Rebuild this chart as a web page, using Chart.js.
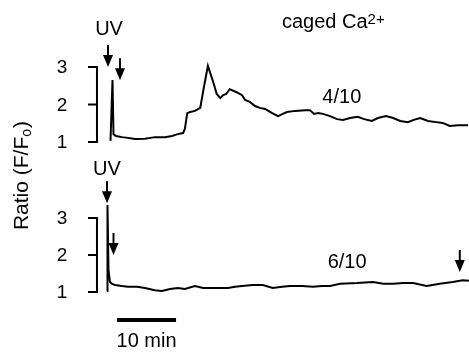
<!DOCTYPE html>
<html>
<head>
<meta charset="utf-8">
<script src="https://cdn.jsdelivr.net/npm/chart.js"></script>
<style>
  html, body { margin: 0; padding: 0; background: #fff; }
  #wrap { width: 469px; height: 352px; position: relative; }
</style>
</head>
<body>
<div id="wrap"><canvas id="ratioChart"></canvas></div>
<script>
// time in minutes after the first UV flash, ratio F/Fo
const topTime = [0.59, 0.93, 1.10, 1.53, 2.54, 3.56, 4.75, 6.44, 8.14, 9.83, 11.0, 12.0, 12.9, 13.2, 13.6, 14.1, 14.9, 15.8, 16.4, 17.1, 18.0, 18.6, 19.2, 19.7, 20.2, 20.8, 21.5, 22.2, 22.9, 23.4, 24.2, 25.1, 25.9, 26.8, 28.0, 29.0, 29.8, 30.5, 31.9, 33.6, 34.4, 35.1, 35.8, 36.6, 37.8, 39.0, 40.0, 41.2, 42.5, 43.6, 44.9, 45.9, 47.3, 48.5, 49.7, 51.0, 52.0, 53.1, 54.4, 55.8, 56.9, 58.1, 59.5, 61.2];
const topRatio = [1.03, 2.65, 1.21, 1.16, 1.13, 1.11, 1.08, 1.09, 1.13, 1.13, 1.16, 1.21, 1.24, 1.35, 1.77, 1.80, 1.83, 1.91, 2.44, 3.03, 2.60, 2.28, 2.17, 2.25, 2.28, 2.41, 2.36, 2.31, 2.25, 2.12, 2.07, 1.96, 1.91, 1.88, 1.77, 1.69, 1.75, 1.80, 1.83, 1.85, 1.85, 1.75, 1.77, 1.75, 1.69, 1.61, 1.59, 1.64, 1.67, 1.61, 1.56, 1.64, 1.69, 1.64, 1.56, 1.53, 1.59, 1.64, 1.56, 1.53, 1.51, 1.43, 1.45, 1.45];

const bottomTime = [0.0, 0.08, 0.25, 0.5, 0.85, 1.36, 2.5, 3.56, 5.1, 6.44, 8.1, 9.3, 10.7, 12.0, 13.2, 14.9, 16.3, 17.5, 19.2, 20.5, 21.7, 22.9, 24.7, 26.4, 28.1, 29.7, 31.0, 33.1, 34.9, 36.4, 37.8, 39.5, 42.4, 45.1, 46.8, 48.5, 50.2, 51.9, 54.2, 56.4, 58.6, 60.3, 61.4];
const bottomRatio = [1.03, 3.35, 1.60, 1.27, 1.22, 1.19, 1.16, 1.14, 1.14, 1.11, 1.05, 1.03, 1.08, 1.11, 1.08, 1.16, 1.11, 1.11, 1.11, 1.11, 1.14, 1.16, 1.19, 1.19, 1.11, 1.14, 1.16, 1.16, 1.14, 1.16, 1.16, 1.22, 1.24, 1.27, 1.22, 1.22, 1.24, 1.24, 1.16, 1.22, 1.27, 1.32, 1.30];

const tickValues = [1, 2, 3];
const tickLabels = ["1", "2", "3"];

// arrow tips: [time, ratio]
const topArrows = [[0.17, 3.0], [2.2, 2.65]];
const bottomArrows = [[0.0, 3.4], [1.1, 2.0], [59.8, 1.54]];

const FONT = '"Liberation Sans", Arial, sans-serif';

function drawArrow(ctx, px, tip) {
  ctx.lineWidth = 2;
  ctx.beginPath();
  ctx.moveTo(px, tip - 22);
  ctx.lineTo(px, tip - 10);
  ctx.stroke();
  ctx.beginPath();
  ctx.moveTo(px - 5, tip - 12);
  ctx.lineTo(px + 5, tip - 12);
  ctx.lineTo(px, tip);
  ctx.closePath();
  ctx.fill();
}

const overlay = {
  id: "overlay",
  afterDraw(chart) {
    const ctx = chart.ctx;
    const x = chart.scales.x;
    const yT = chart.scales.yTop;
    const yB = chart.scales.yBot;
    ctx.save();
    ctx.fillStyle = "#000";
    ctx.strokeStyle = "#000";

    // bracket-style y axes
    const bx = x.getPixelForValue(-1.7);
    [yT, yB].forEach(function (y) {
      ctx.lineWidth = 2;
      ctx.beginPath();
      ctx.moveTo(bx - 9, y.getPixelForValue(3));
      ctx.lineTo(bx, y.getPixelForValue(3));
      ctx.lineTo(bx, y.getPixelForValue(1));
      ctx.lineTo(bx - 9, y.getPixelForValue(1));
      ctx.moveTo(bx - 9, y.getPixelForValue(2));
      ctx.lineTo(bx, y.getPixelForValue(2));
      ctx.stroke();
      ctx.font = "19px " + FONT;
      ctx.textAlign = "center";
      ctx.textBaseline = "middle";
      tickValues.forEach(function (v, i) {
        ctx.fillText(tickLabels[i], bx - 35, y.getPixelForValue(v) + 1);
      });
    });

    topArrows.forEach(function (a) {
      drawArrow(ctx, x.getPixelForValue(a[0]), yT.getPixelForValue(a[1]));
    });
    bottomArrows.forEach(function (a) {
      drawArrow(ctx, x.getPixelForValue(a[0]), yB.getPixelForValue(a[1]));
    });

    ctx.font = "20px " + FONT;
    ctx.textAlign = "center";
    ctx.textBaseline = "middle";
    ctx.fillText("UV", x.getPixelForValue(0.34), yT.getPixelForValue(4.01));
    ctx.fillText("UV", x.getPixelForValue(0.0), yB.getPixelForValue(4.3));
    ctx.fillText("4/10", x.getPixelForValue(39.8), yT.getPixelForValue(2.2));
    ctx.fillText("6/10", x.getPixelForValue(40.7), yB.getPixelForValue(1.81));

    // caged Ca2+
    ctx.textAlign = "left";
    ctx.textBaseline = "alphabetic";
    const cx = 282, cy = 28;
    ctx.fillText("caged Ca", cx, cy);
    const w = ctx.measureText("caged Ca").width;
    ctx.font = "15px " + FONT;
    ctx.fillText("2+", cx + w, cy - 4);

    // scale bar
    const sy = yB.getPixelForValue(0.243);
    ctx.lineWidth = 4;
    ctx.beginPath();
    ctx.moveTo(x.getPixelForValue(1.7), sy);
    ctx.lineTo(x.getPixelForValue(11.7), sy);
    ctx.stroke();
    ctx.font = "20px " + FONT;
    ctx.textAlign = "center";
    ctx.textBaseline = "middle";
    ctx.fillText("10 min", x.getPixelForValue(6.7), sy + 21);

    // y title
    ctx.translate(22, 176);
    ctx.rotate(-Math.PI / 2);
    ctx.textAlign = "left";
    ctx.textBaseline = "middle";
    ctx.font = "21px " + FONT;
    const part1 = "Ratio (F/F";
    const w1 = ctx.measureText(part1).width;
    ctx.font = "14px " + FONT;
    const w2 = ctx.measureText("o").width;
    ctx.font = "21px " + FONT;
    const w3 = ctx.measureText(")").width;
    const start = -(w1 + w2 + w3) / 2;
    ctx.fillText(part1, start, 0);
    ctx.font = "14px " + FONT;
    ctx.fillText("o", start + w1, 5);
    ctx.font = "21px " + FONT;
    ctx.fillText(")", start + w1 + w2 + 1, 0);
    ctx.restore();
  }
};

new Chart(document.getElementById("ratioChart").getContext("2d"), {
  type: "line",
  data: {
    datasets: [
      {
        data: topTime.map((t, i) => ({ x: t, y: topRatio[i] })),
        yAxisID: "yTop",
        borderColor: "#000",
        borderWidth: 2,
        pointRadius: 0,
        tension: 0,
        fill: false,
      },
      {
        data: bottomTime.map((t, i) => ({ x: t, y: bottomRatio[i] })),
        yAxisID: "yBot",
        borderColor: "#000",
        borderWidth: 2,
        pointRadius: 0,
        tension: 0,
        fill: false,
      },
    ],
  },
  options: {
    responsive: true,
    maintainAspectRatio: false,
    animation: false,
    layout: { padding: 0 },
    plugins: { legend: { display: false }, tooltip: { enabled: false } },
    scales: {
      x: { type: "linear", min: -18.14, max: 61.36, display: false },
      yTop: { type: "linear", min: -4.6, max: 4.787, display: false },
      yBot: { type: "linear", min: -0.622, max: 8.892, display: false },
    },
  },
  plugins: [overlay],
});
</script>
</body>
</html>
